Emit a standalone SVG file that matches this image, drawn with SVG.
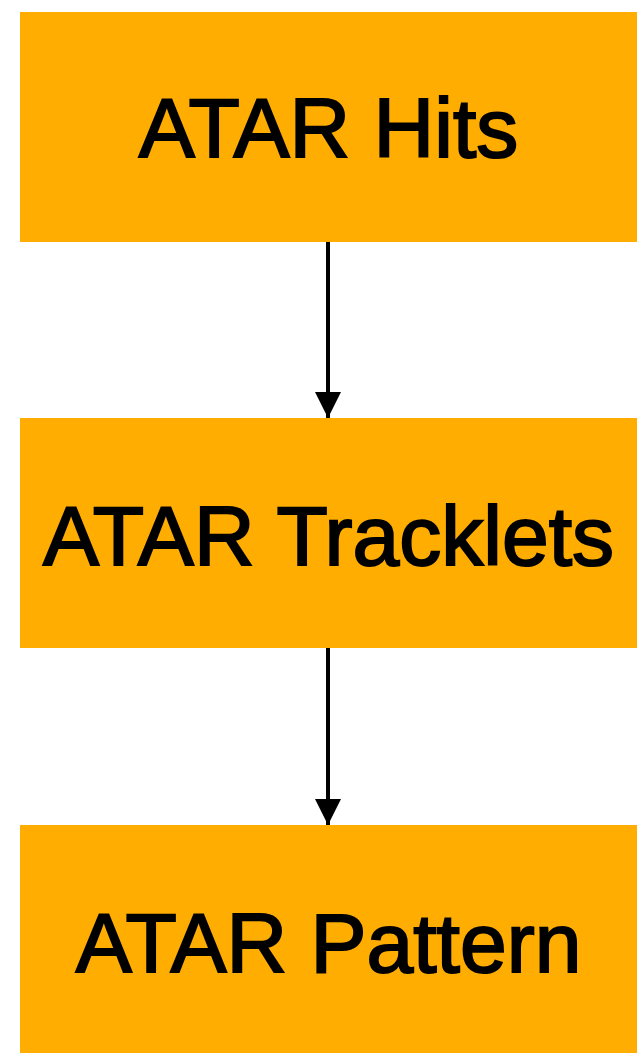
<svg xmlns="http://www.w3.org/2000/svg" width="642" height="1053" viewBox="0 0 642 1053">
<style>
.box{fill:#FFAD00;}
.lbl{font-family:"Liberation Sans",Arial,Helvetica,sans-serif;font-size:84px;fill:#000;stroke:#000;stroke-width:2;text-anchor:middle;}
.conn{stroke:#000;stroke-width:4;fill:none;}
</style>
<defs>
<marker id="ah" markerUnits="userSpaceOnUse" markerWidth="26" markerHeight="26" refX="26" refY="13" orient="auto">
<path d="M0,0 L26,13 L0,26 Z" fill="#000"/>
</marker>
</defs>
<rect width="642" height="1053" fill="#fff"/>
<g id="n1"><rect class="box" x="20" y="12" width="617" height="230"/><text class="lbl" x="328.5" y="157">ATAR Hits</text></g>
<g id="n2"><rect class="box" x="20" y="418" width="617" height="230"/><text class="lbl" x="328.5" y="565">ATAR Tracklets</text></g>
<g id="n3"><rect class="box" x="20" y="825" width="617" height="228"/><text class="lbl" x="328.5" y="972">ATAR Pattern</text></g>
<g id="connectors">
<line class="conn" x1="328" y1="242" x2="328" y2="418" marker-end="url(#ah)"/>
<line class="conn" x1="328" y1="648" x2="328" y2="825" marker-end="url(#ah)"/>
</g>
</svg>
